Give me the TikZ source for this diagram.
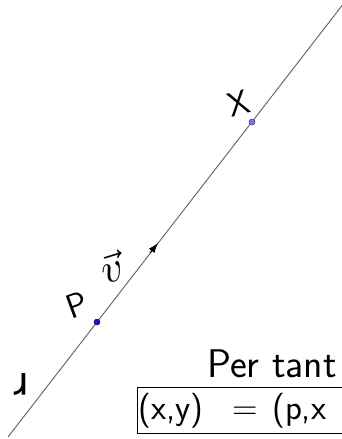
\documentclass[tikz,border=0pt]{standalone}
\usepackage{fontspec}
\usetikzlibrary{arrows.meta}
\definecolor{linegray}{RGB}{95,95,95}
\definecolor{pblue}{RGB}{20,20,205}
\definecolor{xblue}{RGB}{115,115,245}
\begin{document}
\begin{tikzpicture}[x=1pt,y=-1pt,
  hand/.style={font=\sffamily\fontsize{#1}{#1}\selectfont, inner sep=0pt},
  handsp/.style={font=\sffamily\fontsize{#1}{#1}\selectfont\addfontfeatures{LetterSpace=12}, inner sep=0pt},
  handpt/.style={font=\sffamily\fontsize{#1}{#1}\selectfont\addfontfeatures{LetterSpace=4}, inner sep=0pt},
  handwide/.style={font=\sffamily\fontsize{#1}{#1}\selectfont\addfontfeatures{LetterSpace=38}, inner sep=0pt},
  ptdot/.style={circle, inner sep=0pt, minimum size=6pt, line width=0.5pt},
  rline/.style={draw=linegray, line width=0.9pt}]
\useasboundingbox (0,0) rectangle (342,439);
\clip (0,0) rectangle (342,439);
% line r
\coordinate (L) at (8,437);
\coordinate (T) at (344,3);
\coordinate (A0) at (150,253);
\coordinate (A) at (158,243);
\draw[rline] (L) -- (T);
\draw[black, line width=0.9pt, -{Latex[length=10pt,width=7pt]}] (A0) -- (A);
% points
\node[ptdot, fill=pblue, draw=pblue!60!black] (P) at (97,322) {};
\node[ptdot, fill=xblue, draw=xblue!50!black] (X) at (252,122) {};
% labels
\node[hand=34, rotate=15] (labX) at (239,103) {X};
\node[hand=34, rotate=20] (labP) at (77,305) {P};
\node[scale=4.2, rotate=17, inner sep=0pt] (labV) at (112,267) {$\vec{v}$};
\node[hand=50, rotate=180] (labR) at (21,384) {r};
% text
\node[handpt=40, anchor=base west] (pertant) at (207,377) {Per tant};
\draw[line width=1pt] (137,387) rectangle (360,433);
\node[handsp=35, anchor=base west] (eq1) at (138,419) {(x,y)};
\node[hand=35, anchor=base west] (eq2) at (232,419) {=};
\node[handwide=35, anchor=base west] (eq3) at (272,419) {(p,x};
\end{tikzpicture}
\end{document}
